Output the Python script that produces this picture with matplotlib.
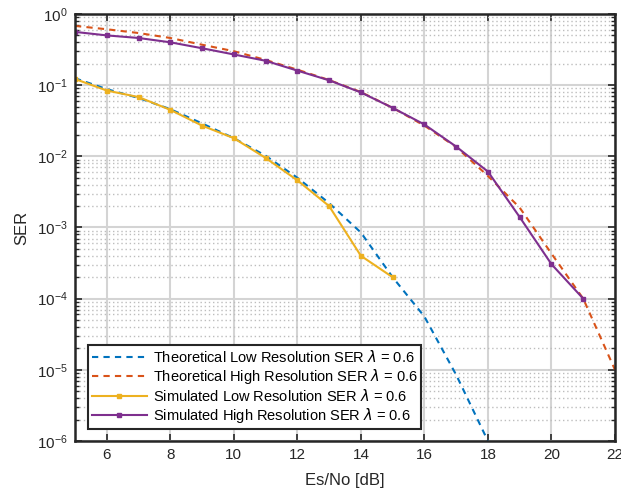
import numpy as np
import matplotlib
matplotlib.use("Agg")
import matplotlib.pyplot as plt
from matplotlib.ticker import LogLocator, FixedLocator, NullFormatter

plt.rcParams["font.family"] = ["Liberation Sans", "DejaVu Sans"]

# ---------------------------------------------------------------- data
snr_theory_low = [5, 6, 7, 8, 9, 10, 11, 12, 13, 14, 15, 16, 17, 18]
ser_theory_low = [0.125, 0.088, 0.066, 0.046, 0.029, 0.018, 0.0102, 0.0050,
                  0.0022, 8.5e-4, 2.0e-4, 5.6e-5, 8.5e-6, 1.0e-6]

snr_theory_high = [5, 6, 7, 8, 9, 10, 11, 12, 13, 14, 15, 16, 17, 18, 19, 20, 21, 22]
ser_theory_high = [0.68, 0.61, 0.54, 0.46, 0.37, 0.30, 0.226, 0.165, 0.118,
                   0.080, 0.048, 0.027, 0.0135, 0.0053, 0.0019, 4.3e-4, 1.0e-4, 1.0e-5]

snr_sim_low = [5, 6, 7, 8, 9, 10, 11, 12, 13, 14, 15]
ser_sim_low = [0.122, 0.084, 0.068, 0.045, 0.027, 0.018, 0.0095, 0.0046,
               0.0020, 4.0e-4, 2.0e-4]

snr_sim_high = [5, 6, 7, 8, 9, 10, 11, 12, 13, 14, 15, 16, 17, 18, 19, 20, 21]
ser_sim_high = [0.56, 0.50, 0.46, 0.40, 0.33, 0.27, 0.22, 0.16, 0.117, 0.079,
                0.048, 0.028, 0.0137, 0.0061, 0.0014, 3.05e-4, 1.0e-4]

labels = [
    r"Theoretical Low Resolution SER $\lambda$ = 0.6",
    r"Theoretical High Resolution SER $\lambda$ = 0.6",
    r"Simulated Low Resolution SER $\lambda$ = 0.6",
    r"Simulated High Resolution SER $\lambda$ = 0.6",
]

# ---------------------------------------------------------------- plot
fig = plt.figure(figsize=(6.21, 4.94), dpi=100)
ax = fig.add_axes([0.1208, 0.1073, 0.8695, 0.8644])

ax.semilogy(snr_theory_low, ser_theory_low, "--", color="#0072BD", lw=1.5,
            dashes=(3, 2.5), label=labels[0])
ax.semilogy(snr_theory_high, ser_theory_high, "--", color="#D95319", lw=1.5,
            dashes=(3, 2.5), label=labels[1])
ax.semilogy(snr_sim_low, ser_sim_low, "-s", color="#EDB120", lw=1.5,
            ms=3.5, label=labels[2])
ax.semilogy(snr_sim_high, ser_sim_high, "-s", color="#7E2F8E", lw=1.5,
            ms=3.5, label=labels[3])

ax.set_xlim(5, 22)
ax.set_ylim(1e-6, 1)
ax.xaxis.set_major_locator(FixedLocator(np.arange(6, 23, 2)))
ax.yaxis.set_major_locator(LogLocator(base=10, numticks=10))
ax.yaxis.set_minor_locator(LogLocator(base=10, subs=np.arange(2, 10), numticks=20))
ax.yaxis.set_minor_formatter(NullFormatter())

ax.grid(True, which="major", color="#d4d4d4", lw=1.5, ls="-")
ax.grid(True, which="minor", axis="y", color="#bdbdbd", lw=1.0, ls=(0, (1, 2)))
ax.set_axisbelow(True)

ax.tick_params(which="both", direction="in", top=True, right=True,
               labelsize=11, colors="#262626")
ax.tick_params(which="major", length=5, width=1.2, pad=5)
ax.tick_params(which="minor", length=3, width=1.0)
for s in ax.spines.values():
    s.set_linewidth(1.8)
    s.set_color("#262626")

ax.set_xlabel("Es/No [dB]", fontsize=12, color="#262626", labelpad=8)
ax.set_ylabel("SER", fontsize=12, color="#262626", labelpad=6)

leg = ax.legend(loc="lower left", bbox_to_anchor=(0.024, 0.028), fontsize=10.5,
                frameon=True, fancybox=False, framealpha=1, edgecolor="#262626",
                borderpad=0.25, labelspacing=0.15, handlelength=3.8,
                handletextpad=0.4, borderaxespad=0, numpoints=1)
leg.get_frame().set_linewidth(1.5)

fig.savefig("out.png", dpi=100)
